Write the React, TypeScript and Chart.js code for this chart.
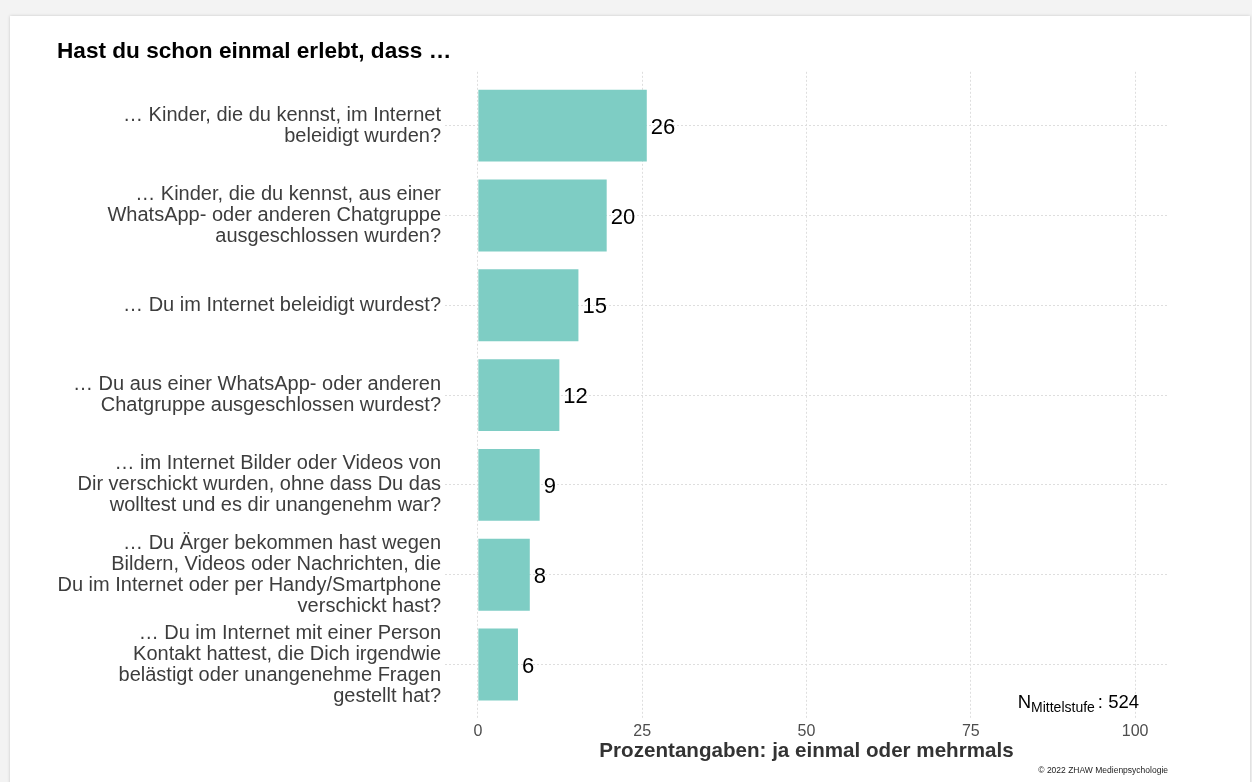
import React, { useEffect, useRef } from "react";
import { Chart, registerables } from "chart.js";

Chart.register(...registerables);

// ---------- data ----------
const categories: string[][] = [
  ["… Kinder, die du kennst, im Internet", "beleidigt wurden?"],
  ["… Kinder, die du kennst, aus einer", "WhatsApp- oder anderen Chatgruppe", "ausgeschlossen wurden?"],
  ["… Du im Internet beleidigt wurdest?"],
  ["… Du aus einer WhatsApp- oder anderen", "Chatgruppe ausgeschlossen wurdest?"],
  ["… im Internet Bilder oder Videos von", "Dir verschickt wurden, ohne dass Du das", "wolltest und es dir unangenehm war?"],
  ["… Du Ärger bekommen hast wegen", "Bildern, Videos oder Nachrichten, die", "Du im Internet oder per Handy/Smartphone", "verschickt hast?"],
  ["… Du im Internet mit einer Person", "Kontakt hattest, die Dich irgendwie", "belästigt oder unangenehme Fragen", "gestellt hat?"],
];
const values: number[] = [25.7, 19.6, 15.3, 12.4, 9.4, 7.9, 6.1];
const xTicks: number[] = [0, 25, 50, 75, 100];
const chartTitle = "Hast du schon einmal erlebt, dass …";
const xTitle = "Prozentangaben: ja einmal oder mehrmals";
const nMain = "N";
const nSub = "Mittelstufe";
const nValue = ": 524";
const copyright = "© 2022 ZHAW Medienpsychologie";

const FONT = '"Liberation Sans", Arial, Helvetica, sans-serif';
const BAR = "#7ecdc4";
const GRID = "#dedede";

const textPlugin = {
  id: "texts",
  afterDatasetsDraw(chart: any) {
    const ctx = chart.ctx;
    const meta = chart.getDatasetMeta(0);
    ctx.save();
    ctx.fillStyle = "#000";
    ctx.font = `22px ${FONT}`;
    ctx.textAlign = "left";
    ctx.textBaseline = "middle";
    meta.data.forEach((el: any, i: number) => {
      ctx.fillText(String(Math.round(values[i])), el.x + 4, el.y + 2);
    });
    ctx.restore();
  },
  afterDraw(chart: any) {
    const ctx = chart.ctx;
    const xs = chart.scales.x;
    ctx.save();
    // title
    ctx.fillStyle = "#000";
    ctx.textBaseline = "alphabetic";
    ctx.textAlign = "left";
    ctx.font = `bold 22.6px ${FONT}`;
    ctx.fillText(chartTitle, 57, 58);
    // x title
    ctx.fillStyle = "#333";
    ctx.textAlign = "center";
    ctx.font = `bold 20.6px ${FONT}`;
    ctx.fillText(xTitle, xs.getPixelForValue(50), 757);
    // N annotation
    ctx.fillStyle = "#000";
    ctx.textAlign = "left";
    const bigFont = `18.5px ${FONT}`;
    const subFont = `14px ${FONT}`;
    const gap = 3;
    ctx.font = bigFont;
    const wN = ctx.measureText(nMain).width;
    const wV = ctx.measureText(nValue).width;
    ctx.font = subFont;
    const wS = ctx.measureText(nSub).width;
    const right = 1139;
    const x0 = right - (wN + wS + gap + wV);
    ctx.font = bigFont;
    ctx.fillText(nMain, x0, 708);
    ctx.font = subFont;
    ctx.fillText(nSub, x0 + wN, 712);
    ctx.font = bigFont;
    ctx.fillText(nValue, x0 + wN + wS + gap, 708);
    // copyright
    ctx.fillStyle = "#222";
    ctx.textAlign = "right";
    ctx.font = `8.5px ${FONT}`;
    ctx.fillText(copyright, 1168, 773);
    ctx.restore();
  },
};

export default function App() {
  const canvasRef = useRef<HTMLCanvasElement | null>(null);

  useEffect(() => {
    document.body.style.margin = "0";
    document.body.style.overflow = "hidden";
    const canvas = canvasRef.current;
    if (!canvas) return;
    const chart = new Chart(canvas, {
      type: "bar",
      data: {
        datasets: [
          {
            data: values.map((v, i) => ({ x: v, y: i })) as any,
            backgroundColor: BAR,
            borderWidth: 0,
            barPercentage: 0.8,
            categoryPercentage: 1,
          },
        ],
      },
      options: {
        responsive: false,
        animation: false,
        indexAxis: "y",
        layout: { padding: { top: 71.8, right: 84, bottom: 0, left: 0 } },
        plugins: {
          legend: { display: false },
          tooltip: { enabled: false },
          title: { display: false },
        },
        scales: {
          x: {
            type: "linear",
            min: -5,
            max: 105,
            offset: false,
            afterBuildTicks: (s: any) => {
              s.ticks = xTicks.map((v) => ({ value: v }));
            },
            afterFit: (s: any) => {
              s.height = 782 - 718.4;
            },
            grid: { color: GRID, lineWidth: 1, drawTicks: false, offset: false },
            border: { display: false, dash: [2, 2] },
            ticks: {
              autoSkip: false,
              maxRotation: 0,
              padding: 4,
              color: "#4d4d4d",
              font: { family: FONT, size: 16 },
            },
          },
          y: {
            type: "linear",
            reverse: true,
            min: -0.6,
            max: 6.6,
            offset: false,
            afterBuildTicks: (s: any) => {
              s.ticks = categories.map((_, i) => ({ value: i }));
            },
            afterFit: (s: any) => {
              s.width = 445;
            },
            grid: { color: GRID, lineWidth: 1, drawTicks: false, offset: false },
            border: { display: false, dash: [2, 2] },
            ticks: {
              autoSkip: false,
              padding: 4,
              color: "#3d3d3d",
              font: { family: FONT, size: 20, lineHeight: 1.05 },
              callback: (v: any) => categories[Number(v)] ?? "",
            },
          },
        },
      },
      plugins: [textPlugin],
    } as any);
    return () => chart.destroy();
  }, []);

  return (
    <div style={{ position: "relative", width: 1252, height: 782, background: "#f3f3f3", overflow: "hidden" }}>
      <div
        style={{
          position: "absolute",
          left: 10,
          top: 16,
          width: 1240,
          height: 780,
          background: "#fff",
          boxShadow: "0 0 3px rgba(0,0,0,0.18)",
        }}
      />
      <canvas
        ref={canvasRef}
        width={1252}
        height={782}
        style={{ position: "absolute", left: 0, top: 0, width: 1252, height: 782, display: "block" }}
      />
    </div>
  );
}
